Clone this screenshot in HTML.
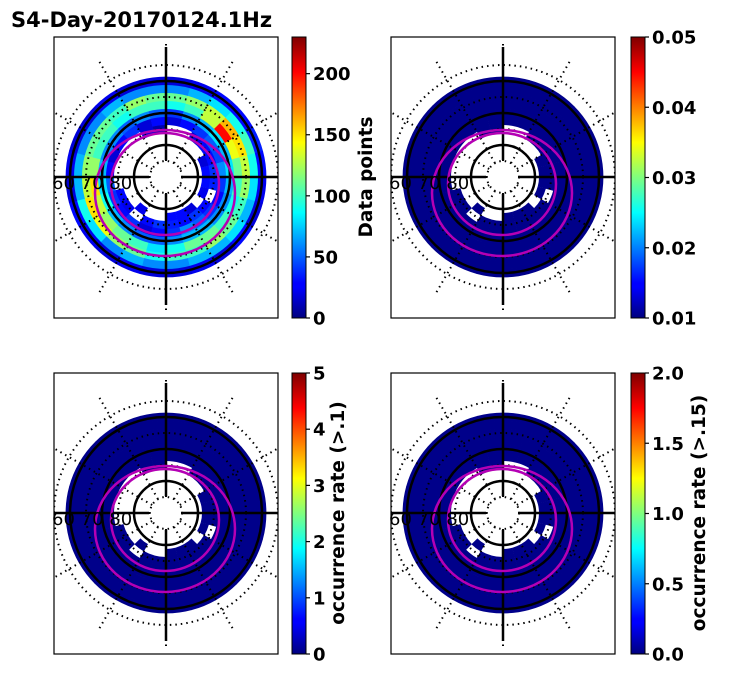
<!DOCTYPE html>
<html><head><meta charset="utf-8">
<style>
html,body{margin:0;padding:0;background:#fff;}
svg{display:block;font-family:"DejaVu Sans","Liberation Sans",sans-serif;}
.tk{font-size:18px;font-weight:bold;fill:#000;}
.lab{font-size:18.5px;font-weight:bold;fill:#000;}
</style></head>
<body>
<svg id="fig" width="731" height="674" viewBox="0 0 731 674" xmlns="http://www.w3.org/2000/svg">
<defs>
<linearGradient id="jet" x1="0" y1="1" x2="0" y2="0">
<stop offset="0" stop-color="#00007f"/><stop offset="0.11" stop-color="#0000ff"/>
<stop offset="0.125" stop-color="#0000ff"/><stop offset="0.34" stop-color="#00dcff"/>
<stop offset="0.375" stop-color="#00ffff"/><stop offset="0.5" stop-color="#7fff7f"/>
<stop offset="0.625" stop-color="#ffff00"/><stop offset="0.66" stop-color="#ffdc00"/>
<stop offset="0.875" stop-color="#ff0000"/><stop offset="1" stop-color="#7f0000"/>
</linearGradient>
</defs>
<text x="11" y="27" font-size="21" font-weight="bold">S4-Day-20170124.1Hz</text>
</svg>
<script>
// Data-point counts per ring (inner->outer) x 24 sectors (clockwise from north)
const ringInner=[36,44,52,60,68,76,84,92];
const ring0=[0,0,0,0,20,30,30,25,0,20,30,30,0,0,25,0,0,0,0,0,0,0,0,0];
const ring1=[0,0,20,30,30,40,35,0,30,40,30,35,40,30,0,25,30,0,0,0,0,0,20,10];
const ring2=[20,30,40,50,45,60,40,30,40,50,60,40,30,20,40,30,40,50,30,20,30,40,20,30];
const ring3=[40,60,70,80,70,80,70,60,60,70,70,60,50,50,60,70,90,80,70,60,60,50,60,50];
const ring4=[90,100,130,200,140,110,100,90,100,110,110,90,80,100,110,120,130,150,120,100,100,90,100,100];
const ring5=[110,120,130,160,150,130,120,100,110,120,100,100,90,110,120,140,150,130,120,110,110,100,120,110];
const ring6=[60,70,80,90,100,90,80,70,80,70,70,60,60,70,60,80,90,70,70,60,60,70,60,60];
const ring7=[20,25,30,30,35,30,25,20,30,20,25,20,20,25,20,25,30,20,25,20,20,25,20,20];
const rings=[ring0,ring1,ring2,ring3,ring4,ring5,ring6,ring7];
const cbTicks1=["0","50","100","150","200"], cbVals1=[0,50,100,150,200], cbMax1=230;
const cbTicks2=["0.01","0.02","0.03","0.04","0.05"], cbVals2=[0.01,0.02,0.03,0.04,0.05];
const cbTicks3=["0","1","2","3","4","5"], cbVals3=[0,1,2,3,4,5];
const cbTicks4=["0.0","0.5","1.0","1.5","2.0"], cbVals4=[0,0.5,1,1.5,2];

const NS="http://www.w3.org/2000/svg";
const svg=document.getElementById('fig');
const defs=svg.querySelector('defs');
function mk(t,a,p){const e=document.createElementNS(NS,t);for(const k in a)e.setAttribute(k,a[k]);(p||svg).appendChild(e);return e;}
function jet(v){v=Math.max(0,Math.min(1,v));
 const r=Math.min(4*v-1.5,-4*v+4.5),g=Math.min(4*v-0.5,-4*v+3.5),b=Math.min(4*v+0.5,-4*v+2.5);
 const c=x=>Math.round(255*Math.max(0,Math.min(1,x)));return `rgb(${c(r)},${c(g)},${c(b)})`;}
function pt(cx,cy,r,deg){const a=deg*Math.PI/180;return [cx+r*Math.sin(a),cy-r*Math.cos(a)];}
function sector(cx,cy,r1,r2,a1,a2){
 const p1=pt(cx,cy,r1,a1),p2=pt(cx,cy,r2,a1),p3=pt(cx,cy,r2,a2),p4=pt(cx,cy,r1,a2);
 return `M${p1}L${p2}A${r2},${r2} 0 0 1 ${p3}L${p4}A${r1},${r1} 0 0 0 ${p1}Z`;}

function panel(id,bx,by,cx,cy,mode,cbx,ticks,vals,vmin,vmax,label,labx){
 const cp=mk('clipPath',{id:'clip-'+id},defs);
 mk('rect',{x:bx,y:by,width:224,height:281},cp);
 const g=mk('g',{});
 
 
 const fr=mk('rect',{x:bx,y:by,width:224,height:281,fill:'#fff',stroke:'#000','stroke-width':1.2},g);
 
 
 const pg=mk('g',{'clip-path':`url(#clip-${id})`},g);
 
 
 const cg=mk('g',{},pg);
 
 
 for(let i=0;i<rings.length;i++){const arr=rings[i];
  for(let s=0;s<24;s++){const v=arr[s];if(v<=0)continue;
   const col=mode==='count'?jet(v/cbMax1):'#00008a';
   const c=mk('path',{d:sector(cx,cy,ringInner[i],ringInner[i]+8.4,s*15,s*15+15.3),fill:col},cg);
   
   
  }}
 for(const r of [16,48,80,112]){const c=mk('circle',{cx,cy,r,fill:'none',stroke:'#000','stroke-width':2,'stroke-dasharray':'1.5 4'},pg);
  }
 for(let a=0;a<360;a+=30){const p1=pt(cx,cy,16,a),p2=pt(cx,cy,135,a);
  const l=mk('line',{x1:p1[0],y1:p1[1],x2:p2[0],y2:p2[1],stroke:'#000','stroke-width':2,'stroke-dasharray':'1.5 4'},pg);
  }
 for(const r of [32,64,96]){const c=mk('circle',{cx,cy,r,fill:'none',stroke:'#000','stroke-width':2.5},pg);
  }
 const ax=[[cx,by+10,cx,cy-17],[cx,cy+17,cx,by+268],[bx,cy,cx-17,cy],[cx+17,cy,bx+224,cy]];
 for(const s of ax){const l=mk('line',{x1:s[0],y1:s[1],x2:s[2],y2:s[3],stroke:'#000','stroke-width':2.5},pg);
  }
 const m1=mk('ellipse',{cx:cx-1,cy:cy+16,rx:70,ry:63,fill:'none',stroke:'#b400b4','stroke-width':2.5},pg);
 
 const m2=mk('ellipse',{cx:cx-1,cy:cy+7,rx:54,ry:51,fill:'none',stroke:'#b400b4','stroke-width':2.5},pg);
 
 const t=mk('text',{x:bx-2,y:cy+12,'font-size':18},g);t.textContent='60 70 80';
 
 const cb=mk('rect',{x:cbx,y:by,width:14,height:281,fill:'url(#jet)',stroke:'#000','stroke-width':1},g);
 
 for(let i=0;i<ticks.length;i++){const y=by+281-(vals[i]-vmin)/(vmax-vmin)*281;
  const tl=mk('line',{x1:cbx+14,y1:y,x2:cbx+18,y2:y,stroke:'#000','stroke-width':1.2},g);
  
  const tx=mk('text',{x:cbx+21,y:y+6.5,class:'tk'},g);tx.textContent=ticks[i];
  }
 const lb=mk('text',{x:labx,y:by+140,class:'lab','text-anchor':'middle',transform:`rotate(-90 ${labx} ${by+140})`},g);
 lb.textContent=label;
}
panel('panel-data-points',54,37,166,177,'count',292,cbTicks1,cbVals1,0,cbMax1,'Data points',372);
panel('panel-mean-s4',391,37,503,177,'zero',631,cbTicks2,cbVals2,0.01,0.05,'mean S4',746);
panel('panel-occurrence-01',54,373,166,513,'zero',292,cbTicks3,cbVals3,0,5,'occurrence rate (>.1)',344);
panel('panel-occurrence-015',391,373,503,513,'zero',631,cbTicks4,cbVals4,0,2,'occurrence rate (>.15)',705);
</script>
</body></html>
